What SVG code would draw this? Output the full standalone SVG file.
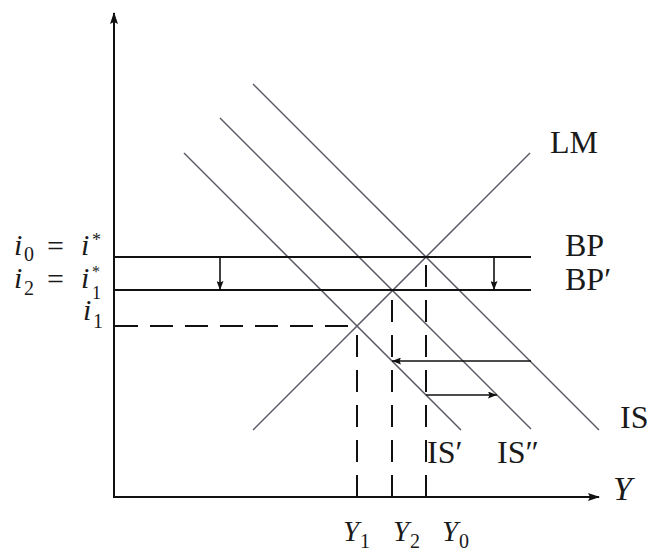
<svg xmlns="http://www.w3.org/2000/svg" width="651" height="555" viewBox="0 0 651 555">
<defs>
<style>
.ax{stroke:#111;stroke-width:2;fill:none}
.cv{stroke:#5a5a66;stroke-width:1.5;fill:none}
.bp{stroke:#111;stroke-width:2;fill:none}
.ds{stroke:#111;stroke-width:2;fill:none;stroke-dasharray:22 13}
.ar{stroke:#111;stroke-width:1.6;fill:none}
.t{font-family:"Liberation Serif","DejaVu Serif",serif;fill:#1a1a1a}
.rm{font-size:32px}
.it{font-style:italic}
</style>
<marker id="big" markerUnits="userSpaceOnUse" markerWidth="12" markerHeight="8" refX="11" refY="4" orient="auto">
<path d="M0,0 L12,4 L0,8 L2,4 z" fill="#111"/>
</marker>
<marker id="sm" markerUnits="userSpaceOnUse" markerWidth="9" markerHeight="7" refX="9" refY="3.5" orient="auto">
<path d="M0,0 L9,3.5 L0,7 L1.5,3.5 z" fill="#111"/>
</marker>
</defs>
<rect width="651" height="555" fill="#fff"/>

<g id="axes">
<line class="ax" x1="114" y1="497" x2="114" y2="13" marker-end="url(#big)"/>
<line class="ax" x1="113" y1="497" x2="599" y2="497" marker-end="url(#big)"/>
</g>

<g id="curves">
<line id="IS" class="cv" x1="253" y1="84" x2="599" y2="430"/>
<line id="IS2" class="cv" x1="220" y1="118" x2="531" y2="429"/>
<line id="IS1" class="cv" x1="184" y1="153" x2="461" y2="430"/>
<line id="LM" class="cv" x1="253" y1="430" x2="530" y2="153"/>
<line id="BP" class="bp" x1="114" y1="257" x2="531" y2="257"/>
<line id="BP1" class="bp" x1="114" y1="290" x2="531" y2="290"/>
</g>

<g id="guides">
<line class="ds" x1="357" y1="497" x2="357" y2="326"/>
<line class="ds" x1="392" y1="497" x2="392" y2="290"/>
<line class="ds" x1="426" y1="497" x2="426" y2="257"/>
<line class="ds" style="stroke-dasharray:23 12" x1="115" y1="326" x2="357" y2="326"/>
</g>

<g id="connectors">
<line class="ar" x1="220" y1="257" x2="220" y2="290" marker-end="url(#sm)"/>
<line class="ar" x1="494" y1="257" x2="494" y2="290" marker-end="url(#sm)"/>
<line class="ar" x1="531" y1="361" x2="392" y2="361" marker-end="url(#sm)"/>
<line class="ar" x1="426" y1="395" x2="497" y2="395" marker-end="url(#sm)"/>
</g>

<g id="labels" class="t">
<text class="rm" x="550" y="153">LM</text>
<text class="rm" x="565" y="256">BP</text>
<text class="rm" x="565" y="290">BP′</text>
<text class="rm" x="620" y="428">IS</text>
<text class="rm" x="427" y="463">IS′</text>
<text class="rm" x="497" y="463">IS″</text>
<text class="it" x="613" y="500" font-size="34">Y</text>
<text font-size="29"><tspan class="it" x="343" y="541">Y</tspan><tspan x="360" y="548" font-size="20">1</tspan></text>
<text font-size="29"><tspan class="it" x="393" y="541">Y</tspan><tspan x="410" y="548" font-size="20">2</tspan></text>
<text font-size="29"><tspan class="it" x="442" y="541">Y</tspan><tspan x="459" y="548" font-size="20">0</tspan></text>
<text font-size="30"><tspan class="it" x="14" y="255">i</tspan><tspan x="24" y="261" font-size="20">0</tspan><tspan x="47" y="256">=</tspan><tspan class="it" x="81" y="255">i</tspan><tspan x="92" y="246" font-size="18">*</tspan></text>
<text font-size="30"><tspan class="it" x="14" y="288">i</tspan><tspan x="24" y="295" font-size="20">2</tspan><tspan x="47" y="289">=</tspan><tspan class="it" x="81" y="288">i</tspan><tspan x="92" y="277" font-size="16">*</tspan><tspan x="92" y="299" font-size="18">1</tspan></text>
<text font-size="30"><tspan class="it" x="83" y="320">i</tspan><tspan x="93" y="328" font-size="20">1</tspan></text>
</g>
</svg>
